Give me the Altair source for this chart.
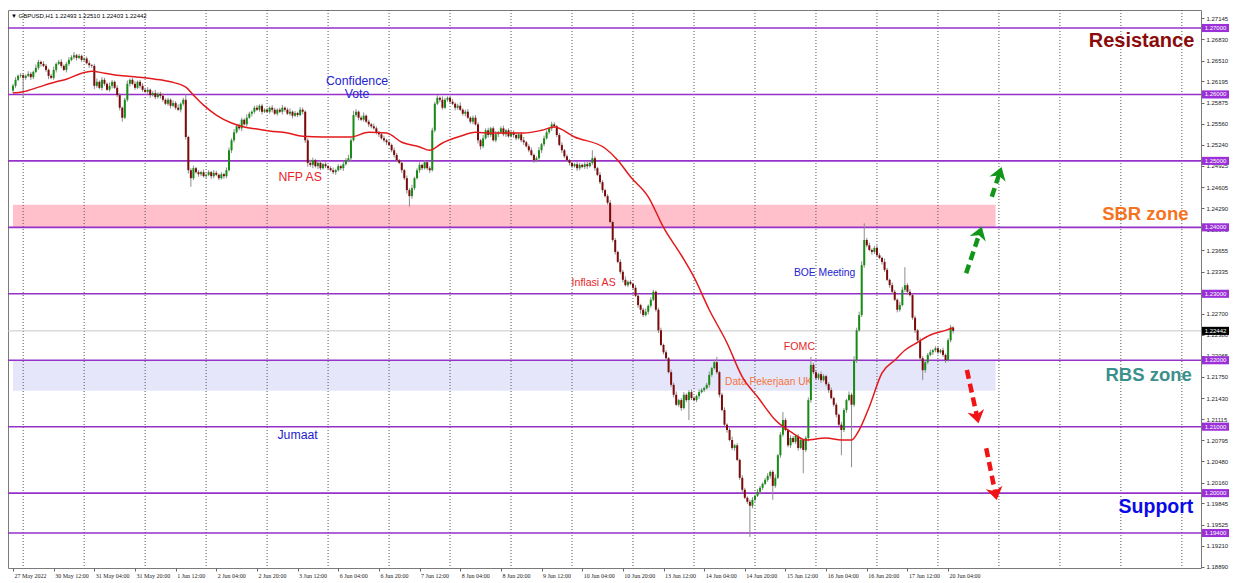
import altair as alt
import pandas as pd

W, H = 1193, 558
BAR_DOMAIN = [0, 465.56]
PRICE_DOMAIN = [1.188733, 1.272709]

HEADER = "\u25bc GBPUSD,H1  1.22493 1.22510 1.22403 1.22442"

OPEN_FIRST = 1.2606
CLOSE = [
    # 27 May 20:00-23:00
    1.2613, 1.2622, 1.2628, 1.2629,
    # 30 May
    1.2625, 1.2628, 1.2631, 1.2626, 1.2634, 1.2640, 1.2649, 1.2646, 1.2643, 1.2637, 1.2628, 1.2625,
    1.2637, 1.2646, 1.2649, 1.2643, 1.2637, 1.2646, 1.2652, 1.2656, 1.2659, 1.2655, 1.2658, 1.2652,
    # 31 May
    1.2654, 1.2647, 1.2644, 1.2643, 1.2613, 1.2619, 1.2610, 1.2622, 1.2616, 1.2607, 1.2613, 1.2619,
    1.2610, 1.2599, 1.2580, 1.2565, 1.2592, 1.2616, 1.2622, 1.2616, 1.2610, 1.2619, 1.2613, 1.2607,
    # 1 Jun
    1.2604, 1.2607, 1.2599, 1.2602, 1.2596, 1.2601, 1.2598, 1.2592, 1.2586, 1.2592, 1.2583, 1.2587,
    1.2580, 1.2577, 1.2586, 1.2592, 1.2536, 1.2486, 1.2474, 1.2489, 1.2483, 1.2480, 1.2483, 1.2477,
    # 2 Jun
    1.2479, 1.2483, 1.2477, 1.2482, 1.2479, 1.2474, 1.2480, 1.2477, 1.2486, 1.2516, 1.2531, 1.2543,
    1.2552, 1.2549, 1.2562, 1.2555, 1.2565, 1.2571, 1.2574, 1.2580, 1.2577, 1.2583, 1.2574, 1.2577,
    # 3 Jun
    1.2574, 1.2580, 1.2577, 1.2571, 1.2577, 1.2574, 1.2580, 1.2577, 1.2571, 1.2574, 1.2568, 1.2572,
    1.2569, 1.2577, 1.2574, 1.2531, 1.2497, 1.2494, 1.2501, 1.2492, 1.2497, 1.2489, 1.2495, 1.2492,
    # 6 Jun
    1.2489, 1.2486, 1.2483, 1.2486, 1.2492, 1.2489, 1.2495, 1.2501, 1.2504, 1.2531, 1.2569, 1.2574,
    1.2565, 1.2562, 1.2568, 1.2559, 1.2555, 1.2552, 1.2549, 1.2543, 1.2540, 1.2534, 1.2531, 1.2528,
    # 7 Jun
    1.2524, 1.2516, 1.2509, 1.2501, 1.2497, 1.2486, 1.2474, 1.2456, 1.2447, 1.2459, 1.2474, 1.2486,
    1.2494, 1.2489, 1.2498, 1.2489, 1.2486, 1.2546, 1.2586, 1.2595, 1.2592, 1.2580, 1.2592, 1.2595,
    # 8 Jun
    1.2589, 1.2586, 1.2580, 1.2583, 1.2577, 1.2571, 1.2574, 1.2565, 1.2559, 1.2565, 1.2555, 1.2531,
    1.2522, 1.2534, 1.2546, 1.2539, 1.2549, 1.2531, 1.2540, 1.2543, 1.2549, 1.2540, 1.2546, 1.2537,
    # 9 Jun
    1.2543, 1.2539, 1.2534, 1.2540, 1.2531, 1.2528, 1.2522, 1.2516, 1.2509, 1.2501, 1.2504, 1.2516,
    1.2525, 1.2534, 1.2543, 1.2549, 1.2555, 1.2552, 1.2539, 1.2524, 1.2516, 1.2507, 1.2501, 1.2497,
    # 10 Jun
    1.2492, 1.2495, 1.2489, 1.2494, 1.2491, 1.2495, 1.2492, 1.2497, 1.2504, 1.2489, 1.2479, 1.2468,
    1.2456, 1.2447, 1.2437, 1.2408, 1.2381, 1.2363, 1.2348, 1.2333, 1.2321, 1.2313, 1.2318, 1.2315,
    # 13 Jun
    1.2309, 1.2297, 1.2283, 1.2276, 1.2268, 1.2273, 1.2282, 1.2291, 1.2303, 1.2276, 1.2245, 1.2223,
    1.2212, 1.2203, 1.2182, 1.2163, 1.2148, 1.2133, 1.2140, 1.2128, 1.2148, 1.2140, 1.2152, 1.2143,
    # 14 Jun
    1.2140, 1.2146, 1.2152, 1.2155, 1.2158, 1.2163, 1.2178, 1.2188, 1.2197, 1.2182, 1.2148, 1.2125,
    1.2103, 1.2095, 1.2080, 1.2068, 1.2072, 1.2050, 1.2023, 1.2005, 1.1993, 1.1987, 1.1981, 1.1990,
    # 15 Jun
    1.1996, 1.2002, 1.2008, 1.2014, 1.2020, 1.2026, 1.2032, 1.2011, 1.2023, 1.2057, 1.2088, 1.2110,
    1.2095, 1.2072, 1.2083, 1.2077, 1.2086, 1.2068, 1.2080, 1.2065, 1.2083, 1.2140, 1.2193, 1.2182,
    # 16 Jun
    1.2173, 1.2179, 1.2170, 1.2176, 1.2164, 1.2155, 1.2143, 1.2133, 1.2118, 1.2103, 1.2095, 1.2125,
    1.2140, 1.2148, 1.2133, 1.2200, 1.2245, 1.2268, 1.2343, 1.2381, 1.2373, 1.2366, 1.2363, 1.2369,
    # 17 Jun
    1.2358, 1.2354, 1.2348, 1.2336, 1.2321, 1.2313, 1.2303, 1.2291, 1.2276, 1.2283, 1.2306, 1.2313,
    1.2303, 1.2298, 1.2264, 1.2245, 1.2230, 1.2203, 1.2185, 1.2197, 1.2208, 1.2212, 1.2215, 1.2218,
    # 20 Jun
    1.2212, 1.2215, 1.2208, 1.2200, 1.2230, 1.2249, 1.22442,
]

# wick extensions beyond the body, in pips
WICK_UP = [
    3, 4, 2, 3,
    3, 2, 4, 3, 2, 5, 3, 2, 4, 3, 2, 3, 5, 2, 3, 4, 2, 3, 4, 3, 5, 2, 3, 2,
    2, 3, 4, 2, 3, 5, 2, 4, 3, 2, 5, 3, 2, 4, 3, 2, 3, 5, 2, 3, 4, 2, 3, 4,
    3, 4, 2, 3, 5, 2, 3, 4, 2, 3, 2, 4, 3, 5, 2, 3, 8, 2, 3, 4, 2, 3, 2, 4,
    2, 3, 2, 4, 3, 2, 3, 2, 4, 4, 3, 5, 2, 4, 3, 2, 5, 3, 2, 3, 4, 2, 3, 2,
    3, 2, 4, 3, 2, 3, 4, 2, 3, 5, 2, 3, 2, 4, 3, 2, 3, 5, 4, 2, 3, 4, 2, 3,
    2, 3, 4, 2, 3, 2, 4, 3, 5, 3, 6, 4, 2, 3, 5, 2, 3, 2, 4, 3, 2, 3, 4, 2,
    3, 2, 4, 3, 2, 3, 2, 4, 3, 5, 2, 3, 4, 2, 3, 2, 3, 4, 3, 4, 2, 5, 3, 2,
    3, 4, 2, 3, 5, 2, 3, 4, 2, 3, 4, 3, 2, 5, 3, 4, 2, 3, 5, 2, 3, 4, 2, 3,
    2, 3, 4, 2, 3, 5, 2, 3, 4, 2, 3, 5, 2, 4, 3, 2, 4, 3, 2, 3, 4, 2, 3, 2,
    3, 2, 4, 3, 2, 3, 4, 2, 12, 3, 2, 4, 3, 2, 3, 4, 2, 3, 2, 4, 3, 5, 2, 3,
    2, 4, 3, 2, 3, 5, 2, 4, 3, 2, 3, 4, 2, 3, 2, 4, 3, 5, 2, 3, 4, 2, 3, 4,
    3, 2, 4, 3, 2, 3, 5, 2, 4, 8, 2, 3, 4, 2, 3, 5, 2, 3, 2, 4, 3, 2, 3, 4,
    2, 4, 3, 2, 3, 4, 2, 3, 5, 2, 4, 12, 3, 2, 4, 3, 2, 3, 4, 2, 3, 4, 12, 3,
    3, 2, 4, 3, 2, 3, 4, 2, 3, 2, 4, 3, 2, 5, 3, 6, 4, 5, 6, 25, 3, 4, 2, 3,
    4, 3, 2, 5, 3, 2, 4, 3, 2, 5, 4, 27, 3, 4, 2, 3, 2, 4, 3, 2, 3, 4, 2, 3,
    3, 2, 4, 2, 3, 4, 2,
]
WICK_DN = [
    4, 3, 2, 3,
    30, 3, 2, 4, 3, 2, 3, 4, 2, 3, 5, 2, 3, 4, 2, 3, 2, 4, 3, 2, 3, 4, 2, 3,
    3, 2, 4, 3, 5, 3, 2, 4, 3, 2, 3, 4, 2, 3, 4, 6, 2, 3, 4, 2, 3, 2, 4, 3,
    2, 3, 4, 2, 3, 2, 4, 3, 2, 3, 4, 2, 3, 2, 4, 3, 4, 5, 13, 3, 2, 4, 3, 2,
    3, 2, 4, 3, 2, 3, 2, 4, 3, 2, 4, 3, 2, 3, 4, 2, 3, 2, 4, 3, 2, 3, 4, 2,
    2, 3, 4, 2, 3, 2, 4, 3, 2, 3, 4, 2, 3, 2, 4, 4, 6, 3, 5, 2, 4, 3, 2, 3,
    3, 2, 3, 4, 2, 3, 4, 2, 3, 4, 2, 3, 4, 2, 3, 2, 4, 3, 2, 3, 4, 2, 3, 4,
    2, 3, 4, 3, 2, 4, 3, 5, 16, 4, 3, 2, 4, 3, 2, 3, 4, 2, 3, 2, 4, 3, 2, 3,
    3, 2, 4, 3, 2, 3, 4, 2, 3, 4, 2, 5, 5, 3, 2, 4, 3, 2, 3, 4, 2, 3, 4, 2,
    2, 4, 3, 2, 3, 4, 2, 3, 2, 4, 3, 2, 4, 3, 2, 3, 4, 2, 3, 2, 4, 3, 2, 4,
    3, 2, 4, 3, 2, 3, 4, 2, 3, 4, 2, 3, 4, 2, 3, 2, 3, 4, 2, 3, 4, 2, 3, 2,
    3, 2, 4, 6, 3, 2, 4, 3, 2, 3, 4, 2, 3, 4, 2, 3, 4, 2, 3, 4, 2, 3, 30, 3,
    2, 3, 4, 2, 3, 2, 4, 3, 2, 3, 4, 2, 3, 4, 2, 3, 4, 2, 3, 4, 2, 3, 47, 4,
    3, 2, 4, 3, 2, 3, 4, 21, 3, 2, 4, 3, 2, 3, 4, 2, 3, 4, 2, 35, 3, 5, 4, 3,
    2, 3, 4, 2, 3, 4, 2, 3, 4, 2, 38, 3, 4, 2, 94, 3, 4, 2, 3, 4, 3, 2, 4, 3,
    3, 2, 4, 3, 2, 4, 3, 2, 4, 3, 2, 3, 4, 2, 3, 4, 2, 3, 15, 4, 3, 2, 4, 3,
    3, 2, 3, 4, 2, 3, 4,
]

# moving average (bar index, price)
MA_BAR = [0, 4, 10, 17, 21, 27, 31, 36, 43, 49, 56, 62, 68, 71, 75, 80, 86, 91, 96, 101,
          108, 114, 122, 133, 140, 147, 153, 160, 164, 169, 176, 182, 188, 201, 208, 213, 221,
          233, 238, 243, 250, 256, 263, 268, 274, 281, 287, 293, 300, 307, 312, 320, 326, 330,
          333, 337, 342, 347, 351, 356, 361, 367, 370]
MA_PRICE = [1.2602, 1.2604, 1.2611, 1.2619, 1.2623, 1.2632, 1.2635, 1.2632, 1.2628, 1.2626,
            1.2623, 1.2619, 1.2611, 1.2599, 1.2584, 1.2569, 1.2557, 1.2551, 1.2548, 1.2545,
            1.2542, 1.2537, 1.2536, 1.2536, 1.2543, 1.2542, 1.2528, 1.2521, 1.2516, 1.2527,
            1.2537, 1.2543, 1.2542, 1.2542, 1.2546, 1.2551, 1.2536, 1.2519, 1.2501, 1.2476,
            1.2446, 1.2400, 1.2358, 1.2325, 1.2276, 1.2226, 1.2175, 1.2145, 1.2110, 1.2090,
            1.2080, 1.2083, 1.2080, 1.2080, 1.2095, 1.2130, 1.2181, 1.2200, 1.2215, 1.2227,
            1.2238, 1.2245, 1.2249]

LEVELS = [1.27, 1.26, 1.25, 1.24, 1.23, 1.22, 1.21, 1.20, 1.194]
CURRENT = 1.22442
SBR_ZONE = [1.2400, 1.2434]
RBS_ZONE = [1.2154, 1.2200]
ZONE_END_BAR = 386.7

DAY_BARS = [4, 28, 52, 76, 100, 124, 148, 172, 196, 220, 244, 268, 292, 316, 340, 364,
            388, 412, 436, 460]
TIME_BARS = [0, 16, 32, 48, 64, 80, 96, 112, 128, 144, 160, 176, 192, 208, 224, 240,
             256, 272, 288, 304, 320, 336, 352, 368]
TIME_LABELS = ["27 May 2022", "30 May 12:00", "31 May 04:00", "31 May 20:00", "1 Jun 12:00",
               "2 Jun 04:00", "2 Jun 20:00", "3 Jun 12:00", "6 Jun 04:00", "6 Jun 20:00",
               "7 Jun 12:00", "8 Jun 04:00", "8 Jun 20:00", "9 Jun 12:00", "10 Jun 04:00",
               "10 Jun 20:00", "13 Jun 12:00", "14 Jun 04:00", "14 Jun 20:00", "15 Jun 12:00",
               "16 Jun 04:00", "16 Jun 20:00", "17 Jun 12:00", "20 Jun 04:00"]
YTICKS = [1.27145, 1.26830, 1.26510, 1.26195, 1.25875, 1.25560, 1.25240, 1.24925, 1.24605,
          1.24290, 1.23970, 1.23655, 1.23335, 1.23015, 1.22700, 1.22380, 1.22065, 1.21750,
          1.21430, 1.21115, 1.20795, 1.20480, 1.20160, 1.19845, 1.19525, 1.19210, 1.18890]

# event notes
NOTE_A_TEXT = ["Confidence\nVote", "Jumaat"]
NOTE_A_BAR = [135.4, 112.0]
NOTE_A_PRICE = [1.26195, 1.20875]
NOTE_B_TEXT = ["NFP AS"]
NOTE_B_BAR = [113.0]
NOTE_B_PRICE = [1.24758]
NOTE_C_TEXT = ["BOE Meeting"]
NOTE_C_BAR = [319.4]
NOTE_C_PRICE = [1.23313]
NOTE_D_TEXT = ["Inflasi AS", "FOMC"]
NOTE_D_BAR = [228.5, 309.5]
NOTE_D_PRICE = [1.23162, 1.22200]
NOTE_E_TEXT = ["Data Pekerjaan UK"]
NOTE_E_BAR = [297.4]
NOTE_E_PRICE = [1.21673]

# zone titles (right aligned)
TITLE_TEXT = ["Resistance", "SBR zone", "RBS zone", "Support"]
TITLE_BAR = [464.9, 462.6, 463.9, 464.5]
TITLE_PRICE = [1.26714, 1.24111, 1.21695, 1.19697]

# arrows: tail -> head
ARROW_DIR = ["up", "up", "down", "down"]
ARROW_TAIL_BAR = [375.1, 385.2, 375.4, 383.0]
ARROW_TAIL_PRICE = [1.23308, 1.24461, 1.21853, 1.20675]
ARROW_HEAD_BAR = [380.4, 388.2, 379.4, 386.6]
ARROW_HEAD_PRICE = [1.23913, 1.24811, 1.21151, 1.19998]
ARROW_ANGLE = [18.6, 18.6, 167.6, 168.3]

assert len(CLOSE) == len(WICK_UP) == len(WICK_DN) == 371

rows = []
prev = OPEN_FIRST
for i, c in enumerate(CLOSE):
    o = prev
    rows.append(dict(b=i, open=o, close=c,
                     high=max(o, c) + WICK_UP[i] / 10000.0,
                     low=min(o, c) - WICK_DN[i] / 10000.0,
                     dir="up" if c >= o else "down"))
    prev = c
candles = pd.DataFrame(rows)

ma_df = pd.DataFrame({"b": MA_BAR, "price": MA_PRICE})
lev_df = pd.DataFrame({"price": LEVELS})
cur_df = pd.DataFrame({"price": [CURRENT]})
sep_df = pd.DataFrame({"b": DAY_BARS})
sbr_df = pd.DataFrame({"b0": [0], "b1": [ZONE_END_BAR], "p0": [SBR_ZONE[0]], "p1": [SBR_ZONE[1]]})
rbs_df = pd.DataFrame({"b0": [0], "b1": [ZONE_END_BAR], "p0": [RBS_ZONE[0]], "p1": [RBS_ZONE[1]]})
arrow_df = pd.DataFrame({"dir": ARROW_DIR, "tb": ARROW_TAIL_BAR, "tp": ARROW_TAIL_PRICE,
                         "hb": ARROW_HEAD_BAR, "hp": ARROW_HEAD_PRICE, "ang": ARROW_ANGLE})

XS = alt.Scale(domain=BAR_DOMAIN, nice=False, zero=False)
YS = alt.Scale(domain=PRICE_DOMAIN, nice=False, zero=False)
label_expr = "[" + ",".join("'%s'" % t for t in TIME_LABELS) + "][round(datum.value / 16)]"
XAX = alt.Axis(values=TIME_BARS, labelExpr=label_expr, title=None, grid=False, domain=False,
               tickSize=3, tickColor="#666666", labelAlign="left", labelOffset=1,
               labelFontSize=6, labelFont="Liberation Sans Narrow", labelColor="#222222",
               labelPadding=1, labelOverlap=False, labelFlush=False, labelBound=False)
YAX = alt.Axis(orient="right", values=YTICKS, format=".5f", title=None, grid=False, domain=False,
               tickSize=3, tickColor="#666666", labelFontSize=6, labelFont="Liberation Sans",
               labelColor="#222222", labelPadding=2, labelOverlap=False, labelBound=False,
               labelFlush=False)


def X(f):
    return alt.X(f, type="quantitative", scale=XS, axis=XAX)


def Y(f):
    return alt.Y(f, type="quantitative", scale=YS, axis=YAX)


def zone(df, color):
    return alt.Chart(df).mark_rect(color=color, opacity=1).encode(
        x=X("b0"), x2=alt.X2("b1"), y=Y("p0"), y2=alt.Y2("p1"))


def notes(texts, bars, prices, color, size, **kw):
    df = pd.DataFrame({"label": texts, "b": bars, "price": prices})
    return alt.Chart(df).mark_text(color=color, fontSize=size, font="Liberation Sans", **kw).encode(
        x=X("b"), y=Y("price"), text="label:N")


zones = [zone(sbr_df, "#ffc0cb"), zone(rbs_df, "#e6e6fa")]
seps = alt.Chart(sep_df).mark_rule(color="#555555", strokeDash=[1, 2], strokeWidth=1).encode(x=X("b"))
current = alt.Chart(cur_df).mark_rule(color="#c8c8c8", strokeWidth=1).encode(y=Y("price"))
levels = alt.Chart(lev_df).mark_rule(color="#9632c8", strokeWidth=1.6).encode(y=Y("price"))

note_layers = [
    notes(NOTE_A_TEXT, NOTE_A_BAR, NOTE_A_PRICE, "#2323d2", 12.3, lineBreak="\n", lineHeight=13),
    notes(NOTE_B_TEXT, NOTE_B_BAR, NOTE_B_PRICE, "#e8262a", 12.3),
    notes(NOTE_C_TEXT, NOTE_C_BAR, NOTE_C_PRICE, "#2323d2", 10.3),
    notes(NOTE_D_TEXT, NOTE_D_BAR, NOTE_D_PRICE, "#e8262a", 10.6),
    notes(NOTE_E_TEXT, NOTE_E_BAR, NOTE_E_PRICE, "#f2753a", 10.2),
]

wicks = alt.Chart(candles).mark_rule(color="#8c8c8c", strokeWidth=1).encode(
    x=X("b"), y=Y("low"), y2=alt.Y2("high"))
bodies_up = alt.Chart(candles).transform_filter(alt.datum.dir == "up").mark_bar(
    size=2, color="#168c16").encode(x=X("b"), y=Y("open"), y2=alt.Y2("close"))
bodies_dn = alt.Chart(candles).transform_filter(alt.datum.dir == "down").mark_bar(
    size=2, color="#7c0a0a").encode(x=X("b"), y=Y("open"), y2=alt.Y2("close"))
ma = alt.Chart(ma_df).mark_line(color="#e31a1c", strokeWidth=1.5, interpolate="monotone").encode(
    x=X("b"), y=Y("price"))

HEAD_PATH = "M0,-0.8L1,0.7L0,0.25L-1,0.7Z"


def arrows(direction, color):
    base = alt.Chart(arrow_df).transform_filter(alt.datum.dir == direction)
    shaft = base.mark_rule(color=color, strokeWidth=4.5, strokeDash=[9, 5]).encode(
        x=X("tb"), y=Y("tp"), x2=alt.X2("hb"), y2=alt.Y2("hp"))
    head = base.mark_point(shape=HEAD_PATH, filled=True, size=289, opacity=1, color=color,
                           strokeWidth=0).encode(
        x=X("hb"), y=Y("hp"), angle=alt.Angle("ang:Q", scale=None))
    return [shaft, head]


TITLE_COLORS = ["#8b0b0b", "#f5731f", "#3b8f8c", "#0a0ae6"]
TITLE_SIZES = [20, 18.5, 18.5, 19.5]
title_layers = []
for t, b, p, col, sz in zip(TITLE_TEXT, TITLE_BAR, TITLE_PRICE, TITLE_COLORS, TITLE_SIZES):
    df = pd.DataFrame({"label": [t], "b": [b], "price": [p]})
    title_layers.append(
        alt.Chart(df).mark_text(color=col, fontSize=sz, fontWeight="bold", font="Liberation Sans",
                                align="right", baseline="alphabetic").encode(
            x=X("b"), y=Y("price"), text="label:N"))

TAG_PATH = "M-1,-0.3H1V0.3H-1Z"
TAG_X = W + 14.5
tags = alt.Chart(lev_df).mark_point(shape=TAG_PATH, filled=True, size=729, opacity=1,
                                    color="#9b30d8", strokeWidth=0).encode(
    x=alt.value(TAG_X), y=Y("price"))
tag_text = alt.Chart(lev_df).mark_text(color="white", fontSize=6, font="Liberation Sans").encode(
    x=alt.value(TAG_X), y=Y("price"), text=alt.Text("price:Q", format=".5f"))
cur_tag = alt.Chart(cur_df).mark_point(shape=TAG_PATH, filled=True, size=729, opacity=1,
                                       color="#000000", strokeWidth=0).encode(
    x=alt.value(TAG_X), y=Y("price"))
cur_text = alt.Chart(cur_df).mark_text(color="white", fontSize=6, font="Liberation Sans").encode(
    x=alt.value(TAG_X), y=Y("price"), text=alt.Text("price:Q", format=".5f"))

header = alt.Chart(pd.DataFrame({"t": [HEADER]})).mark_text(
    align="left", baseline="middle", fontSize=6, font="Liberation Sans", color="#000000").encode(
    x=alt.value(3), y=alt.value(5.7), text="t:N")

layers = (zones + [seps, current, levels] + note_layers + [wicks, bodies_up, bodies_dn, ma]
          + arrows("up", "#12961a") + arrows("down", "#f01414") + title_layers
          + [header, tags, tag_text, cur_tag, cur_text])

chart = alt.layer(*layers).properties(
    width=W, height=H,
    padding={"left": 0, "top": 2, "right": 35, "bottom": 15},
    autosize=alt.AutoSizeParams(type="none"),
    background="white",
).configure_view(stroke="#7a7a7a", strokeWidth=1)

chart.save("out.html", embed_options={"renderer": "svg", "actions": False})
